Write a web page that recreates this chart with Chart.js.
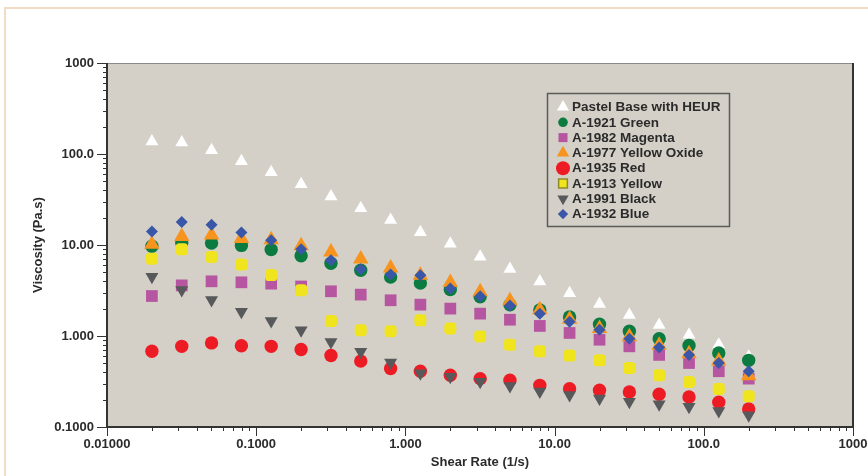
<!DOCTYPE html>
<html>
<head>
<meta charset="utf-8">
<script src="https://cdn.jsdelivr.net/npm/chart.js@4.4.1/dist/chart.umd.min.js"></script>
<style>
html, body { margin: 0; padding: 0; background: #fff; }
</style>
</head>
<body>
<canvas id="chart" width="868" height="476"></canvas>
<script>
// shear rate (1/s), one value per measured point
const shearRate = [0.02, 0.0317, 0.0502, 0.0796, 0.126, 0.2, 0.317, 0.502, 0.796, 1.26, 2.0,
	3.17, 5.02, 7.96, 12.6, 20.0, 31.7, 50.2, 79.6, 126, 200];

// viscosity (Pa.s) per sample
const pastelBase = [137, 134, 110, 83, 63, 46.5, 34.2, 25.3, 18.8, 13.8, 10.3,
	7.45, 5.44, 3.96, 2.95, 2.25, 1.70, 1.32, 1.03, 0.80, 0.59];
const green1921 = [9.7, 10.6, 10.5, 9.9, 8.9, 7.6, 6.3, 5.27, 4.45, 3.82, 3.24,
	2.7, 2.2, 1.93, 1.62, 1.35, 1.13, 0.935, 0.785, 0.65, 0.54];
const magenta1982 = [2.75, 3.6, 3.99, 3.89, 3.76, 3.5, 3.1, 2.85, 2.47, 2.21, 2.0,
	1.76, 1.51, 1.29, 1.08, 0.91, 0.77, 0.62, 0.505, 0.41, 0.34];
const yellowOxide1977 = [10.2, 12.4, 12.9, 11.8, 11.4, 9.8, 8.4, 7.0, 5.6, 4.65, 3.87,
	3.06, 2.44, 1.94, 1.53, 1.21, 0.98, 0.79, 0.64, 0.53, 0.365];
const red1935 = [0.68, 0.77, 0.84, 0.78, 0.77, 0.71, 0.61, 0.53, 0.44, 0.41, 0.37,
	0.34, 0.326, 0.287, 0.264, 0.253, 0.243, 0.229, 0.214, 0.187, 0.158];
const yellow1913 = [7.08, 8.97, 7.4, 6.1, 4.68, 3.18, 1.46, 1.16, 1.13, 1.49, 1.21,
	0.99, 0.80, 0.68, 0.61, 0.54, 0.445, 0.37, 0.313, 0.262, 0.218];
const black1991 = [4.48, 3.2, 2.48, 1.85, 1.46, 1.155, 0.86, 0.67, 0.51, 0.39, 0.357,
	0.315, 0.283, 0.245, 0.225, 0.206, 0.19, 0.178, 0.167, 0.15, 0.135];
const blue1932 = [14.1, 17.9, 16.7, 13.7, 11.3, 9.0, 6.8, 5.4, 4.73, 4.64, 3.32,
	2.73, 2.17, 1.76, 1.43, 1.17, 0.93, 0.746, 0.62, 0.505, 0.41];

const xTickValues = [0.01, 0.1, 1, 10, 100, 1000];
const xTickLabels = ['0.01000', '0.1000', '1.000', '10.00', '100.0', '1000'];
const yTickValues = [0.1, 1, 10, 100, 1000];
const yTickLabels = ['0.1000', '1.000', '10.00', '100.0', '1000'];

const FONT = '"Liberation Sans", Arial, Helvetica, sans-serif';
const TEXT = '#2b2b2b';
const PLOT_BG = '#d4d0c8';

const series = [
	{label: 'Pastel Base with HEUR', values: pastelBase, color: '#ffffff', style: 'triangle', rotation: 0, radius: 7.5, legendRadius: 7},
	{label: 'A-1921 Green', values: green1921, color: '#0b7b40', style: 'circle', rotation: 0, radius: 6.7, legendRadius: 4.8},
	{label: 'A-1982 Magenta', values: magenta1982, color: '#b656a1', style: 'rect', rotation: 0, radius: 8.3, legendRadius: 6.4},
	{label: 'A-1977 Yellow Oxide', values: yellowOxide1977, color: '#f7941d', style: 'triangle', rotation: 0, radius: 9, legendRadius: 7.2},
	{label: 'A-1935 Red', values: red1935, color: '#ed1c24', style: 'circle', rotation: 0, radius: 6.7, legendRadius: 7},
	{label: 'A-1913 Yellow', values: yellow1913, color: '#f0e41e', style: 'rectRounded', rotation: 0, radius: 7, legendRadius: 6.2, legendBorder: '#8c8a2a', legendStyle: 'rect'},
	{label: 'A-1991 Black', values: black1991, color: '#58595b', style: 'triangle', rotation: 180, radius: 7.5, legendRadius: 6.5},
	{label: 'A-1932 Blue', values: blue1932, color: '#3a57a7', style: 'rectRot', rotation: 0, radius: 6, legendRadius: 5.2}
];

const logTicks = (min, max) => {
	const ticks = [];
	for (let e = Math.round(Math.log10(min)); e <= Math.round(Math.log10(max)); e++) {
		const base = Math.pow(10, e);
		ticks.push({value: base, major: true});
		if (base >= max) break;
		for (let m = 2; m <= 9; m++) ticks.push({value: m * base, major: false});
	}
	return ticks;
};

const decadeLabel = (values, labels) => value => {
	const i = values.findIndex(v => Math.abs(Math.log10(v) - Math.log10(value)) < 1e-6);
	return i < 0 ? '' : labels[i];
};

const frame = {
	id: 'frame',
	beforeDraw(chart) {
		const {ctx, chartArea: a} = chart;
		ctx.save();
		ctx.fillStyle = '#ffffff';
		ctx.fillRect(0, 0, chart.width, chart.height);
		ctx.strokeStyle = '#f1dcc4';
		ctx.lineWidth = 2;
		ctx.beginPath();
		ctx.moveTo(5, chart.height);
		ctx.lineTo(5, 8);
		ctx.lineTo(chart.width, 8);
		ctx.stroke();
		ctx.fillStyle = PLOT_BG;
		ctx.fillRect(a.left, a.top, a.right - a.left, a.bottom - a.top);
		ctx.restore();
	},
	beforeDatasetsDraw(chart) {
		const {ctx, chartArea: a, scales: {x, y}} = chart;
		ctx.save();
		ctx.strokeStyle = '#333333';
		ctx.lineWidth = 1;
		ctx.beginPath();
		x.ticks.forEach(t => {
			const px = Math.round(x.getPixelForValue(t.value)) + 0.5;
			ctx.moveTo(px, a.bottom);
			ctx.lineTo(px, a.bottom + (t.major ? 9 : 4));
		});
		y.ticks.forEach(t => {
			const py = Math.round(y.getPixelForValue(t.value)) + 0.5;
			ctx.moveTo(a.left, py);
			ctx.lineTo(a.left - (t.major ? 10 : 4), py);
		});
		ctx.stroke();
		// top edge
		ctx.strokeStyle = '#8a8a8a';
		ctx.beginPath();
		ctx.moveTo(a.left, a.top + 0.5);
		ctx.lineTo(a.right, a.top + 0.5);
		ctx.stroke();
		// left, bottom, right edges
		ctx.strokeStyle = '#333333';
		ctx.lineWidth = 2;
		ctx.beginPath();
		ctx.moveTo(a.left, a.top);
		ctx.lineTo(a.left, a.bottom);
		ctx.lineTo(a.right, a.bottom);
		ctx.lineTo(a.right, a.top);
		ctx.stroke();
		ctx.restore();
	}
};

const legendBox = {
	id: 'legendBox',
	afterDatasetsDraw(chart) {
		const {ctx} = chart;
		ctx.save();
		ctx.strokeStyle = '#5a5a5a';
		ctx.lineWidth = 1.5;
		ctx.strokeRect(547.5, 93.5, 182, 133);
		ctx.font = `bold 13.5px ${FONT}`;
		ctx.textBaseline = 'middle';
		ctx.textAlign = 'left';
		series.forEach((s, i) => {
			const ly = 107 + i * 15.3;
			ctx.fillStyle = s.color;
			ctx.strokeStyle = s.legendBorder || s.color;
			Chart.helpers.drawPoint(ctx, {
				pointStyle: s.legendStyle || s.style,
				radius: s.legendRadius,
				rotation: s.rotation,
				borderWidth: s.legendBorder ? 1 : 0
			}, 563, ly);
			ctx.fillStyle = TEXT;
			ctx.fillText(s.label, 572, ly + 0.5);
		});
		ctx.restore();
	}
};

const tickFont = {family: FONT, size: 13, weight: 'bold'};

new Chart(document.getElementById('chart'), {
	type: 'scatter',
	data: {
		datasets: series.map((s, i) => ({
			label: s.label,
			data: s.values.map((v, k) => ({x: shearRate[k], y: v})),
			order: series.length - i,
			pointStyle: s.style,
			pointRotation: s.rotation,
			pointRadius: s.radius,
			pointHoverRadius: s.radius,
			pointBackgroundColor: s.color,
			pointBorderWidth: 0,
			showLine: false
		}))
	},
	options: {
		responsive: false,
		animation: false,
		events: [],
		layout: {padding: {top: 63, right: 15, bottom: 0, left: 0}},
		plugins: {
			legend: {display: false},
			tooltip: {enabled: false}
		},
		scales: {
			x: {
				type: 'logarithmic',
				position: 'bottom',
				min: 0.01,
				max: 1000,
				afterBuildTicks: scale => { scale.ticks = logTicks(0.01, 1000); },
				afterFit: scale => {
					scale.height = 49;
					scale.paddingLeft = 0;
					scale.paddingRight = 0;
				},
				grid: {display: false, drawTicks: false},
				border: {display: false},
				ticks: {
					autoSkip: false,
					maxRotation: 0,
					padding: 10,
					color: TEXT,
					font: tickFont,
					callback: decadeLabel(xTickValues, xTickLabels)
				},
				title: {
					display: true,
					text: 'Shear Rate (1/s)',
					color: TEXT,
					font: tickFont,
					padding: {top: 0, bottom: 6}
				}
			},
			y: {
				type: 'logarithmic',
				position: 'left',
				min: 0.1,
				max: 1000,
				afterBuildTicks: scale => { scale.ticks = logTicks(0.1, 1000); },
				afterFit: scale => {
					scale.width = 107;
					scale.paddingTop = 0;
					scale.paddingBottom = 0;
				},
				grid: {display: false, drawTicks: false},
				border: {display: false},
				ticks: {
					autoSkip: false,
					padding: 13,
					color: TEXT,
					font: tickFont,
					callback: decadeLabel(yTickValues, yTickLabels)
				},
				title: {
					display: true,
					text: 'Viscosity (Pa.s)',
					color: TEXT,
					font: tickFont,
					padding: {top: 31, bottom: 0}
				}
			}
		}
	},
	plugins: [frame, legendBox]
});
</script>
</body>
</html>
